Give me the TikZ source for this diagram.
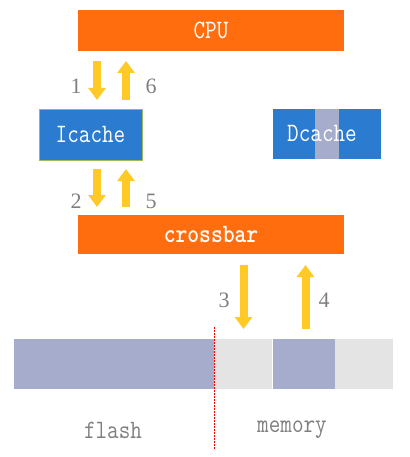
\documentclass[tikz,border=0pt]{standalone}
\usepackage{fontspec}
\usepackage{graphicx}
\newfontfamily\numfont{Liberation Serif}
\usetikzlibrary{arrows.meta}
\definecolor{orng}{HTML}{FF6D0F}
\definecolor{cblue}{HTML}{2B7BD0}
\definecolor{lav}{HTML}{A6ACCC}
\definecolor{lgrey}{HTML}{E4E4E4}
\definecolor{ylw}{HTML}{FFC928}
\definecolor{numgrey}{HTML}{7F7F7F}
\definecolor{bgreen}{HTML}{9BBB59}
\newcommand{\tall}[1]{\scalebox{1}[1.18]{#1}}
\tikzset{
  every node/.style={inner sep=0pt, outer sep=0pt},
  orangebox/.style={fill=orng, text=white, font=\ttfamily\fontsize{22.5}{22.5}\selectfont},
  cachebox/.style={fill=cblue, text=white, font=\ttfamily\fontsize{22.5}{22.5}\selectfont},
  numlbl/.style={text=numgrey, font=\numfont\fontsize{22}{22}\selectfont},
  memlbl/.style={text=numgrey, font=\ttfamily\fontsize{22.5}{22.5}\selectfont},
  flow/.style={draw=ylw, line width=8pt, -{Triangle[width=17pt,length=12pt]}, shorten >=0pt},
}
\begin{document}
\begin{tikzpicture}[x=1pt,y=-1pt]
\useasboundingbox (0,0) rectangle (409,457);
% CPU
\node[orangebox, minimum width=266pt, minimum height=41pt] (cpu) at (211,30.5) {\tall{CPU}};
% Icache
\node[cachebox, draw=bgreen, line width=0.6pt, minimum width=103pt, minimum height=51pt] (icache) at (90.5,134.5) {\tall{Icache}};
% Dcache
\node[fill=cblue, minimum width=108pt, minimum height=50pt] (dcache) at (327,134) {};
\fill[lav] (315,109) rectangle (339,159);
\node[text=white, font=\ttfamily\fontsize{22.5}{22.5}\selectfont] (dlabel) at (322,133) {\tall{Dcache}};
% crossbar
\node[orangebox, font=\ttfamily\bfseries\fontsize{22.5}{22.5}\selectfont, minimum width=266pt, minimum height=39pt] (xbar) at (211,234.5) {\tall{crossbar}};
% memory bar
\node[fill=lav, minimum width=200pt, minimum height=50pt] (flash) at (114,364) {};
\node[fill=lgrey, minimum width=58pt, minimum height=50pt] (m1) at (243,364) {};
\node[fill=lav, minimum width=62pt, minimum height=50pt] (m2) at (304,364) {};
\node[fill=lgrey, minimum width=58pt, minimum height=50pt] (m3) at (364,364) {};
% arrows
\coordinate (a1s) at (97,61); \coordinate (a1e) at (97,100);
\coordinate (a6s) at (126,100); \coordinate (a6e) at (126,61);
\coordinate (a2s) at (97,169); \coordinate (a2e) at (97,207);
\coordinate (a5s) at (126,207); \coordinate (a5e) at (126,169);
\coordinate (a3s) at (243.5,265); \coordinate (a3e) at (243.5,329);
\coordinate (a4s) at (305.5,329); \coordinate (a4e) at (305.5,265);
\draw[flow] (a1s) -- (a1e);
\draw[flow] (a6s) -- (a6e);
\draw[flow] (a2s) -- (a2e);
\draw[flow] (a5s) -- (a5e);
\draw[flow] (a3s) -- (a3e);
\draw[flow] (a4s) -- (a4e);
% numbers
\node[numlbl] (n1) at (76,86) {1};
\node[numlbl] (n6) at (151,86) {6};
\node[numlbl] (n2) at (76,201) {2};
\node[numlbl] (n5) at (151,201) {5};
\node[numlbl] (n3) at (224,300) {3};
\node[numlbl] (n4) at (324,300) {4};
% divider
\coordinate (d1) at (214,327); \coordinate (d2) at (214,450);
\draw[red, line width=0.7pt, dash pattern=on 2pt off 1pt] (d1) -- (d2);
% labels
\node[memlbl] (lflash) at (113,430) {\tall{flash}};
\node[memlbl] (lmem) at (292,430) {\tall{memory}};
\end{tikzpicture}
\end{document}
